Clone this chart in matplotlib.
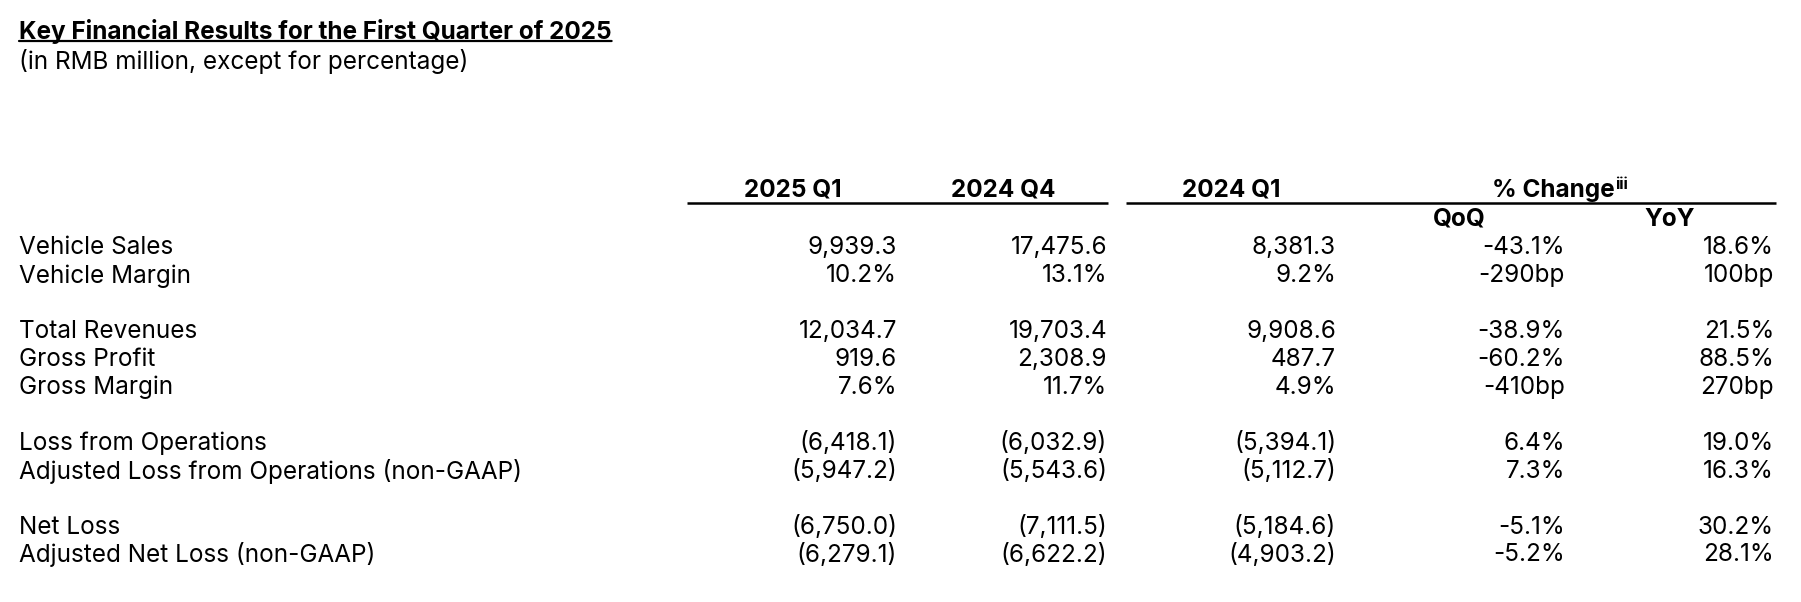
import matplotlib
matplotlib.use("Agg")
import matplotlib.pyplot as plt

# ---------------- data ----------------
title = "Key Financial Results for the First Quarter of 2025"
subtitle = "(in RMB million, except for percentage)"

period_headers = ["2025 Q1", "2024 Q4", "2024 Q1"]
change_header = "% Change"
change_note = "iii"
change_subheaders = ["QoQ", "YoY"]

row_labels = [
    "Vehicle Sales",
    "Vehicle Margin",
    "Total Revenues",
    "Gross Profit",
    "Gross Margin",
    "Loss from Operations",
    "Adjusted Loss from Operations (non-GAAP)",
    "Net Loss",
    "Adjusted Net Loss (non-GAAP)",
]
row_kinds = ["amt", "pct", "amt", "amt", "pct", "amt", "amt", "amt", "amt"]
change_kinds = ["pct", "bp", "pct", "pct", "bp", "pct", "pct", "pct", "pct"]

q1_2025 = [9939.3, 10.2, 12034.7, 919.6, 7.6, -6418.1, -5947.2, -6750.0, -6279.1]
q4_2024 = [17475.6, 13.1, 19703.4, 2308.9, 11.7, -6032.9, -5543.6, -7111.5, -6622.2]
q1_2024 = [8381.3, 9.2, 9908.6, 487.7, 4.9, -5394.1, -5112.7, -5184.6, -4903.2]
qoq = [-43.1, -290, -38.9, -60.2, -410, 6.4, 7.3, -5.1, -5.2]
yoy = [18.6, 100, 21.5, 88.5, 270, 19.0, 16.3, 30.2, 28.1]

# ---------------- formatting ----------------
def fmt_value(v, kind):
    if kind == "pct":
        return f"{v:.1f}%"
    if v < 0:
        return f"({abs(v):,.1f})"
    return f"{v:,.1f}"

def fmt_change(v, kind):
    if kind == "bp":
        return f"{v:.0f}bp"
    return f"{v:.1f}%"

# ---------------- layout ----------------
W, H = 1801, 602
fig = plt.figure(figsize=(W / 100, H / 100), dpi=100)
fig.patch.set_facecolor("white")
ax = fig.add_axes([0, 0, 1, 1])
ax.set_xlim(0, W)
ax.set_ylim(H, 0)
ax.axis("off")

FONT = ["Inter", "DejaVu Sans"]
FS = 17.5
color = "black"

# title & subtitle
t = ax.text(19, 39, title, fontsize=FS, fontweight="bold", family=FONT,
            color=color, va="baseline", ha="left")
ax.text(19, 69, subtitle, fontsize=FS, family=FONT, color=color,
        va="baseline", ha="left")
# underline for title
ax.annotate("", xy=(1, 0.12), xycoords=t, xytext=(0, 0.12), textcoords=t,
            arrowprops=dict(arrowstyle="-", lw=1.6, color=color,
                            shrinkA=0, shrinkB=0))

# column geometry (pixel coordinates)
value_right = [897, 1107, 1336]
change_right = [1565, 1774]
header_centers = [793, 1003, 1231]
change_center = 1553
sub_centers = [1459, 1670]
header_y = 190
sub_y = 219
line_y = 203

for hx, h in zip(header_centers, period_headers):
    ax.text(hx, header_y, h, fontsize=FS, fontweight="bold", family=FONT,
            color=color, ha="center", va="center")
ch = ax.text(change_center, header_y, change_header, fontsize=FS,
             fontweight="bold", family=FONT, color=color, ha="center",
             va="center")
ax.annotate(change_note, xy=(1, 1.08), xycoords=ch, fontsize=FS * 0.65,
            fontweight="bold", family=FONT, color=color, ha="left",
            va="top", xytext=(0.5, 0), textcoords="offset points")
for sx, s in zip(sub_centers, change_subheaders):
    ax.text(sx, sub_y, s, fontsize=FS, fontweight="bold", family=FONT,
            color=color, ha="center", va="center")

ax.plot([687, 1108], [line_y, line_y], color=color, lw=1.8,
        solid_capstyle="butt")
ax.plot([1126, 1776], [line_y, line_y], color=color, lw=1.8,
        solid_capstyle="butt")

# body rows
slots = [0, 1, 3, 4, 5, 7, 8, 10, 11]
row_y0 = 248
row_step = 27.9

for i, label in enumerate(row_labels):
    y = row_y0 + slots[i] * row_step
    ax.text(19, y, label, fontsize=FS, family=FONT, color=color,
            ha="left", va="center")
    for xr, series in zip(value_right, (q1_2025, q4_2024, q1_2024)):
        ax.text(xr, y, fmt_value(series[i], row_kinds[i]), fontsize=FS,
                family=FONT, color=color, ha="right", va="center")
    for xr, series in zip(change_right, (qoq, yoy)):
        ax.text(xr, y, fmt_change(series[i], change_kinds[i]), fontsize=FS,
                family=FONT, color=color, ha="right", va="center")

fig.savefig("out.png", dpi=100, facecolor="white")
